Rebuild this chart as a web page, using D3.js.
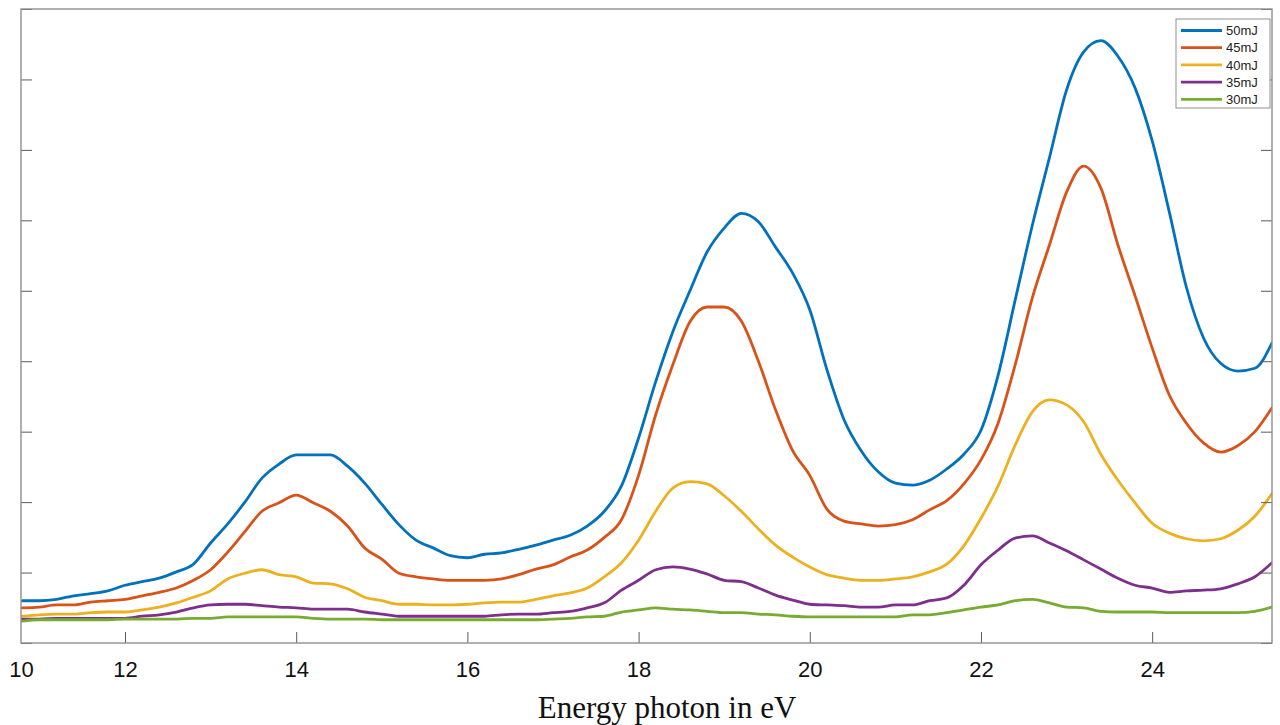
<!DOCTYPE html>
<html>
<head>
<meta charset="utf-8">
<script src="https://cdn.jsdelivr.net/npm/d3@7/dist/d3.min.js"></script>
<style>
  body { margin: 0; background: #fff; }
  svg { display: block; }
  .tick-label { font-family: "Liberation Sans", Arial, sans-serif; font-size: 22px; fill: #111; }
  .legend-text { font-family: "Liberation Sans", Arial, sans-serif; font-size: 13px; fill: #222; }
</style>
</head>
<body>
<script>
// photon energy grid (eV)
const energy = [
  10.8, 11.0, 11.2, 11.4, 11.6, 11.8, 12.0, 12.2, 12.4, 12.6,
  12.8, 13.0, 13.2, 13.4, 13.6, 13.8, 14.0, 14.2, 14.4, 14.6,
  14.8, 15.0, 15.2, 15.4, 15.6, 15.8, 16.0, 16.2, 16.4, 16.6,
  16.8, 17.0, 17.2, 17.4, 17.6, 17.8, 18.0, 18.2, 18.4, 18.6,
  18.8, 19.0, 19.2, 19.4, 19.6, 19.8, 20.0, 20.2, 20.4, 20.6,
  20.8, 21.0, 21.2, 21.4, 21.6, 21.8, 22.0, 22.2, 22.4, 22.6,
  22.8, 23.0, 23.2, 23.4, 23.6, 23.8, 24.0, 24.2, 24.4, 24.6,
  24.8, 25.0, 25.2, 25.4
];

// intensity, arbitrary units
const mj50 = [
  0.60, 0.60, 0.62, 0.67, 0.70, 0.74, 0.82, 0.87, 0.92, 1.01,
  1.12, 1.42, 1.69, 2.00, 2.34, 2.54, 2.67, 2.67, 2.67, 2.51,
  2.27, 1.97, 1.68, 1.46, 1.35, 1.24, 1.21, 1.26, 1.28, 1.33,
  1.39, 1.46, 1.53, 1.66, 1.87, 2.23, 2.91, 3.71, 4.42, 5.00,
  5.55, 5.89, 6.10, 5.98, 5.62, 5.25, 4.73, 3.88, 3.17, 2.73,
  2.43, 2.27, 2.24, 2.31, 2.47, 2.68, 3.02, 3.80, 4.87, 5.93,
  6.89, 7.85, 8.39, 8.55, 8.33, 7.88, 7.13, 6.12, 5.05, 4.33,
  3.97, 3.86, 3.90, 4.26
];
const mj45 = [
  0.50, 0.51, 0.54, 0.54, 0.58, 0.60, 0.62, 0.67, 0.72, 0.78,
  0.89, 1.04, 1.29, 1.58, 1.87, 1.99, 2.10, 1.99, 1.87, 1.66,
  1.35, 1.19, 0.99, 0.94, 0.91, 0.89, 0.89, 0.89, 0.91, 0.97,
  1.05, 1.11, 1.22, 1.32, 1.50, 1.75, 2.38, 3.24, 3.95, 4.56,
  4.77, 4.77, 4.57, 4.00, 3.31, 2.73, 2.38, 1.90, 1.73, 1.69,
  1.66, 1.68, 1.75, 1.89, 2.02, 2.26, 2.60, 3.12, 3.95, 4.90,
  5.65, 6.40, 6.77, 6.46, 5.65, 4.93, 4.19, 3.52, 3.12, 2.84,
  2.71, 2.80, 3.00, 3.34
];
const mj40 = [
  0.38, 0.40, 0.41, 0.41, 0.43, 0.44, 0.44, 0.47, 0.51, 0.57,
  0.65, 0.74, 0.91, 0.99, 1.04, 0.97, 0.94, 0.85, 0.84, 0.77,
  0.65, 0.60, 0.55, 0.55, 0.54, 0.54, 0.55, 0.57, 0.58, 0.58,
  0.62, 0.67, 0.71, 0.78, 0.94, 1.14, 1.46, 1.87, 2.20, 2.29,
  2.26, 2.09, 1.87, 1.62, 1.39, 1.22, 1.08, 0.97, 0.92, 0.89,
  0.89, 0.91, 0.94, 1.01, 1.12, 1.38, 1.77, 2.23, 2.81, 3.28,
  3.45, 3.38, 3.14, 2.68, 2.31, 1.99, 1.70, 1.56, 1.48, 1.45,
  1.48, 1.60, 1.80, 2.12
];
const mj35 = [
  0.34, 0.34, 0.35, 0.35, 0.35, 0.35, 0.35, 0.38, 0.40, 0.44,
  0.50, 0.54, 0.55, 0.55, 0.53, 0.51, 0.50, 0.48, 0.48, 0.48,
  0.44, 0.41, 0.38, 0.38, 0.38, 0.38, 0.38, 0.38, 0.40, 0.41,
  0.41, 0.43, 0.45, 0.50, 0.57, 0.75, 0.89, 1.04, 1.08, 1.05,
  0.98, 0.89, 0.87, 0.78, 0.68, 0.61, 0.55, 0.54, 0.53, 0.51,
  0.51, 0.54, 0.54, 0.60, 0.64, 0.82, 1.11, 1.32, 1.49, 1.52,
  1.42, 1.31, 1.18, 1.05, 0.92, 0.82, 0.78, 0.72, 0.74, 0.75,
  0.77, 0.84, 0.94, 1.14
];
const mj30 = [
  0.31, 0.33, 0.33, 0.33, 0.33, 0.33, 0.34, 0.34, 0.34, 0.34,
  0.35, 0.35, 0.37, 0.37, 0.37, 0.37, 0.37, 0.35, 0.34, 0.34,
  0.34, 0.33, 0.33, 0.33, 0.33, 0.33, 0.33, 0.33, 0.33, 0.33,
  0.33, 0.34, 0.35, 0.37, 0.38, 0.44, 0.47, 0.50, 0.48, 0.47,
  0.45, 0.43, 0.43, 0.41, 0.40, 0.38, 0.37, 0.37, 0.37, 0.37,
  0.37, 0.37, 0.40, 0.40, 0.43, 0.47, 0.51, 0.54, 0.60, 0.62,
  0.57, 0.51, 0.50, 0.45, 0.44, 0.44, 0.44, 0.43, 0.43, 0.43,
  0.43, 0.43, 0.45, 0.51
];

const seriesNames = ["50mJ", "45mJ", "40mJ", "35mJ", "30mJ"];
const seriesValues = [mj50, mj45, mj40, mj35, mj30];
const seriesColors = ["#0072BD", "#D95319", "#EDB120", "#7E2F8E", "#77AC30"];

const xTicks = [10.785, 12, 14, 16, 18, 20, 22, 24];
const xTickLabels = ["10", "12", "14", "16", "18", "20", "22", "24"];
const yTicks = [0, 1, 2, 3, 4, 5, 6, 7, 8, 9];

const W = 1280, H = 725,
      plot = { left: 21, right: 1272, top: 9, bottom: 643 },
      axisColor = "#8f8f8f",
      tickColor = "#5a5a5a",
      tickLen = 11;

const svg = d3.select("body")
  .append("svg")
  .attr("width", W)
  .attr("height", H);

const xScale = d3.scaleLinear()
  .domain([10.785, 25.4])
  .range([plot.left, plot.right]);

const yScale = d3.scaleLinear()
  .domain([0, 9])
  .range([plot.bottom, plot.top]);

svg.append("defs")
  .append("clipPath")
  .attr("id", "clip")
  .append("rect")
  .attr("x", plot.left)
  .attr("y", plot.top)
  .attr("width", plot.right - plot.left)
  .attr("height", plot.bottom - plot.top);

// curves
const line = d3.line()
  .x((d, i) => xScale(energy[i]))
  .y((d) => yScale(d))
  .curve(d3.curveMonotoneX);

svg.append("g")
  .attr("clip-path", "url(#clip)")
  .selectAll("path")
  .data(seriesValues)
  .enter()
  .append("path")
  .attr("d", line)
  .attr("fill", "none")
  .attr("stroke", (d, i) => seriesColors[i])
  .attr("stroke-width", 2.8)
  .attr("stroke-linejoin", "round")
  .attr("stroke-linecap", "round");

// axes box, ticks pointing inward
const xAxis = d3.axisBottom(xScale)
  .tickValues(xTicks)
  .tickSizeInner(-tickLen)
  .tickSizeOuter(0)
  .tickPadding(18)
  .tickFormat((d, i) => xTickLabels[i]);

const gx = svg.append("g")
  .attr("transform", "translate(0," + plot.bottom + ")")
  .call(xAxis);
gx.select(".domain").remove();
gx.selectAll(".tick line").attr("stroke", tickColor);
gx.selectAll(".tick").filter((d, i) => i === 0).select("line").remove();
gx.selectAll(".tick text")
  .attr("class", "tick-label")
  .attr("dy", "0.71em")
  .style("font-family", "'Liberation Sans', Arial, sans-serif")
  .style("font-size", "22px");

const yLeft = d3.axisLeft(yScale)
  .tickValues(yTicks)
  .tickSizeInner(-tickLen)
  .tickSizeOuter(0)
  .tickFormat("");
const gyl = svg.append("g")
  .attr("transform", "translate(" + plot.left + ",0)")
  .call(yLeft);
gyl.select(".domain").remove();
gyl.selectAll(".tick line").attr("stroke", tickColor);

const yRight = d3.axisRight(yScale)
  .tickValues(yTicks)
  .tickSizeInner(-tickLen)
  .tickSizeOuter(0)
  .tickFormat("");
const gyr = svg.append("g")
  .attr("transform", "translate(" + plot.right + ",0)")
  .call(yRight);
gyr.select(".domain").remove();
gyr.selectAll(".tick line").attr("stroke", tickColor);

svg.append("rect")
  .attr("x", plot.left)
  .attr("y", plot.top)
  .attr("width", plot.right - plot.left)
  .attr("height", plot.bottom - plot.top)
  .attr("fill", "none")
  .attr("stroke", axisColor)
  .attr("stroke-width", 1.4);

svg.append("text")
  .attr("x", 667)
  .attr("y", 718)
  .attr("text-anchor", "middle")
  .style("font-family", "'Liberation Serif', 'Times New Roman', serif")
  .style("font-size", "31px")
  .style("fill", "#111")
  .text("Energy photon in eV");

// legend
const legendBox = { x: 1176, y: 19, w: 94, h: 89 };
svg.append("rect")
  .attr("x", legendBox.x)
  .attr("y", legendBox.y)
  .attr("width", legendBox.w)
  .attr("height", legendBox.h)
  .attr("fill", "#fff")
  .attr("stroke", axisColor)
  .attr("stroke-width", 1);

const legend = svg.selectAll(".legend")
  .data(seriesNames)
  .enter()
  .append("g")
  .attr("class", "legend")
  .attr("transform", (d, i) => "translate(" + legendBox.x + "," + (legendBox.y + 11.5 + i * 17.2) + ")");

legend.append("line")
  .attr("x1", 5)
  .attr("x2", 46)
  .attr("stroke", (d, i) => seriesColors[i])
  .attr("stroke-width", 2.8);

legend.append("text")
  .attr("class", "legend-text")
  .attr("x", 50)
  .attr("dy", "0.36em")
  .text((d) => d);
</script>
</body>
</html>
